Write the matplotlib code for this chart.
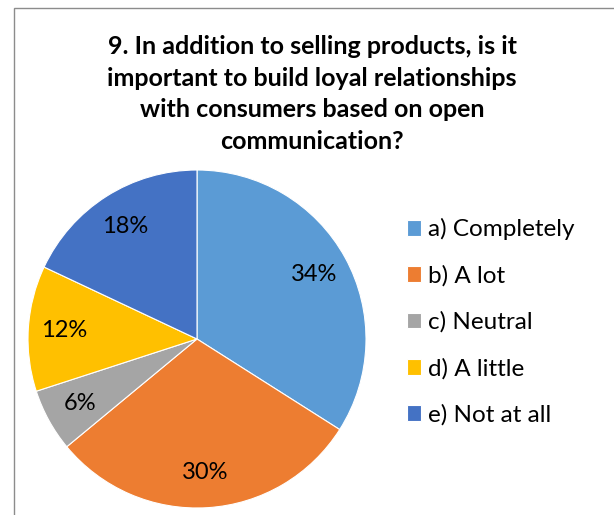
import matplotlib
matplotlib.use("Agg")
import matplotlib.pyplot as plt
from matplotlib.patches import Rectangle

# === Data ===
labels = ["a) Completely", "b) A lot", "c) Neutral", "d) A little", "e) Not at all"]
values = [34, 30, 6, 12, 18]
colors = ["#5B9BD5", "#ED7D31", "#A5A5A5", "#FFC000", "#4472C4"]
title = ("9. In addition to selling products, is it\n"
         "important to build loyal relationships\n"
         "with consumers based on open\n"
         "communication?")

plt.rcParams['font.family'] = ['Lato', 'DejaVu Sans']

fig = plt.figure(figsize=(6.14, 5.15), dpi=100)

# outer frame (cut off at right/bottom like the screenshot)
fig.patches.append(Rectangle((13.5 / 614, -0.2), 1.2, 1.2 - 7.5 / 515,
                             transform=fig.transFigure, fill=False,
                             edgecolor="#8C8C8C", linewidth=1.0))

ax = fig.add_axes([28 / 614, 7 / 515, 338 / 614, 338 / 515])
wedges, _, autotexts = ax.pie(values, colors=colors, startangle=90, counterclock=False,
                              autopct="%1.0f%%", pctdistance=0.79,
                              wedgeprops=dict(edgecolor="white", linewidth=0.8),
                              textprops=dict(fontsize=17, color="#000000"))
ax.set_xlim(-1, 1)
ax.set_ylim(-1, 1)
ax.set_aspect("equal")

fig.text(312 / 614, 1 - 94 / 515, title, ha="center", va="center",
         fontsize=18, fontweight="bold", linespacing=1.45)

fig.legend(wedges, labels, loc="center left", bbox_to_anchor=(385 / 614, 1 - 322 / 515),
           frameon=False, fontsize=17.5, handlelength=0.6, handleheight=0.6,
           handletextpad=0.25, labelspacing=1.02)

fig.savefig("out.png", dpi=100)
